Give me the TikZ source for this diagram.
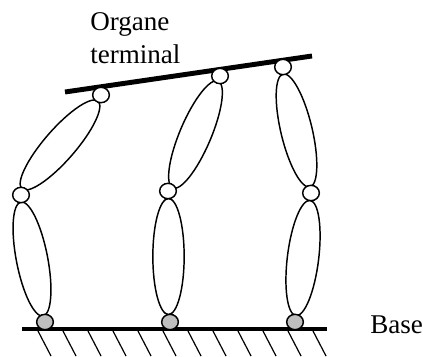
\documentclass[tikz,border=0pt]{standalone}
\usepackage{fontspec}
\setmainfont{Liberation Serif}
\usetikzlibrary{shapes.geometric}
\begin{document}
\begin{tikzpicture}[x=0.75pt,y=-0.75pt]
	\tikzstyle{segment}=[ellipse,draw=black,line width=1.1pt,minimum width=87pt,minimum height=23.5pt,inner sep=0pt]
	\tikzstyle{freejoint}=[ellipse,draw=black,line width=1.1pt,fill=white,minimum width=12.5pt,minimum height=11.5pt,inner sep=0pt]
	\tikzstyle{basejoint}=[freejoint,fill=black!25]
	\tikzstyle{bar}=[draw,line width=3.7pt]
	\tikzstyle{hatch}=[draw,line width=0.9pt]
	\tikzstyle{label}=[font=\fontsize{20.3}{24.7}\selectfont,inner sep=0pt,align=left]
	\useasboundingbox (0,0) rectangle (423,356);
	% legs
	\node [segment,rotate=101] (s1) at (32,259) {};
	\node [segment,rotate=49] (s2) at (60,145) {};
	\node [segment,rotate=90] (s3) at (168.5,256.5) {};
	\node [segment,rotate=67] (s4) at (195.5,134.5) {};
	\node [segment,rotate=83] (s5) at (303,258) {};
	\node [segment,rotate=103.4] (s6) at (296.5,130.5) {};
	% bars
	\coordinate (b1) at (22,329);
	\coordinate (b2) at (327,329);
	\coordinate (t1) at (65,92);
	\coordinate (t2) at (312,56);
	\foreach \x in {38,63,88,113,138,163,188,213,238,263,288,313}
		\path[hatch] (\x,331) -- (\x+13,356);
	\path[bar] (b1) -- (b2);
	\path[bar] (t1) -- (t2);
	% joints
	\node [basejoint] (j1) at (45,322) {};
	\node [basejoint] (j2) at (170,322) {};
	\node [basejoint] (j3) at (295,322) {};
	\node [freejoint] (m1) at (21,195) {};
	\node [freejoint] (m2) at (168,191) {};
	\node [freejoint] (m3) at (311,193) {};
	\node [freejoint] (e1) at (101,95) {};
	\node [freejoint] (e2) at (220,76) {};
	\node [freejoint] (e3) at (283,67) {};
	% labels
	\node [label,anchor=north west] (organe) at (90,12) {Organe\\terminal};
	\node [label,anchor=base west] (base) at (370,333) {Base};
\end{tikzpicture}
\end{document}
